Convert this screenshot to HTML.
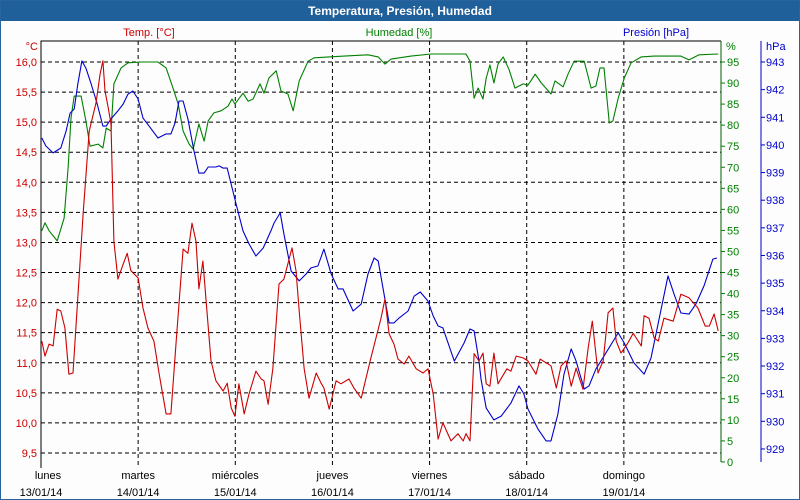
<!DOCTYPE html>
<html><head><meta charset="utf-8"><style>
html,body{margin:0;padding:0;background:#fff}
#wrap{position:relative;width:800px;height:500px;overflow:hidden;background:#fdfdfd;box-sizing:border-box;border:1px solid #2a64a0;font-family:"Liberation Sans",sans-serif}
#title{position:absolute;left:0;top:0;width:798px;height:20px;background:#1f5f9a;color:#fff;font-weight:bold;font-size:12px;line-height:20px;text-align:center}
svg{position:absolute;left:0;top:0}
svg text{font-family:"Liberation Sans",sans-serif;font-size:11px}
</style></head><body>
<div id="wrap">
<div id="title">Temperatura, Presión, Humedad</div>
<svg id="chart" width="800" height="500"></svg>
</div>
<script>
const dayNames=["lunes","martes","miércoles","jueves","viernes","sábado","domingo"];
const dayDates=["13/01/14","14/01/14","15/01/14","16/01/14","17/01/14","18/01/14","19/01/14"];
const tempTicks=[16.0,15.5,15.0,14.5,14.0,13.5,13.0,12.5,12.0,11.5,11.0,10.5,10.0,9.5];
const humTicks=[95,90,85,80,75,70,65,60,55,50,45,40,35,30,25,20,15,10,5,0];
const presTicks=[943,942,941,940,939,938,937,936,935,934,933,932,931,930,929];
const tempHours=[0.2,1,2,3,4,4.9,5.9,6.9,7.9,9.1,10.4,11.9,13.6,14.6,15.3,15.8,16.6,17.3,18,19,20.3,21.3,22.2,24,25.2,26.4,27.9,29.2,30.9,32.1,33.4,35.1,36.3,37.3,38.3,39,40,40.8,42,43.2,45,46,47,47.9,48.9,50.2,51.4,53.1,54.4,55.1,56.1,57.3,58.8,60,62,63,63.8,65,66.2,68,69.2,69.9,71.2,72.9,74.1,76.1,77.3,79.1,81.5,84,85,86,87.2,88.2,89.7,90.9,92.7,94.4,95.6,96.9,98.1,99.3,101.3,103,104.3,105,106,107,108.2,109.2,110,110.9,111.9,112.9,115.1,116.1,117.4,119.1,120.3,122.3,123.3,124.8,126,127.3,128.5,129.7,131,132.2,133.9,135.2,136.2,137.6,138.9,140.1,141.3,142.1,143.3,145,146.3,148.3,149,150.2,151.5,152.5,153.9,156.2,158.1,160.1,162.3,164.1,165.1,166.3,167.3];
const tempValues=[11.36,11.11,11.31,11.28,11.89,11.86,11.58,10.81,10.83,12.08,13.47,14.85,15.32,15.8,16.02,15.52,15.24,14.97,13.02,12.39,12.64,12.82,12.53,12.41,11.91,11.58,11.36,10.81,10.15,10.15,11.36,12.89,12.82,13.32,13.02,12.23,12.69,12.03,11.03,10.7,10.53,10.66,10.25,10.11,10.65,10.15,10.48,10.86,10.73,10.7,10.31,10.91,12.31,12.39,12.91,12.53,11.86,10.91,10.41,10.83,10.66,10.58,10.23,10.7,10.65,10.73,10.58,10.41,11.08,11.74,12.06,11.48,11.31,11.06,10.98,11.11,10.9,10.83,10.9,10.48,9.73,10.0,9.7,9.82,9.7,9.82,9.7,11.15,11.03,11.16,10.65,10.61,11.16,10.65,10.9,10.86,11.11,11.08,11.03,10.81,11.06,11.0,10.95,10.58,10.95,11.03,10.61,10.91,10.56,11.25,11.69,10.83,11.03,11.83,11.91,11.36,11.16,11.33,11.49,11.28,11.78,11.74,11.41,11.36,11.74,11.69,12.14,12.08,11.91,11.61,11.61,11.81,11.53];
const humHours=[0.2,1,2,4,5.7,6.7,7.4,8.2,9.9,11.1,12.1,14.1,15.3,16.1,17.3,18,19.8,21.5,24.7,28.9,30.9,32.6,33.9,35.1,36.6,37.6,39,40.3,41.3,42.7,44.5,46.2,47.2,47.9,49.9,51.2,52.4,54.1,55.1,56.3,58.1,59.3,61,62.3,63.8,66,67.5,74.9,80.8,83.3,85,86.5,91.4,96.4,98.8,105,106,107,108,109.2,110,110.9,111.9,112.9,114.2,115.6,117.1,119.1,120.3,122.1,123.6,126,127,129,130.2,131.7,134.2,135.9,137.1,138.1,139.1,140.4,141.3,142.6,144.1,145.8,148.3,151.5,155.2,158.1,160.1,162.6,167.3];
const humValues=[54.9,56.8,54.9,52.5,57.9,69.8,81.7,86.9,86.9,81.0,75.0,75.5,74.6,79.3,78.6,89.8,93.6,94.8,95.0,95.0,93.6,88.8,85.0,78.6,75.5,74.3,80.3,76.2,81.0,82.9,83.4,84.5,86.2,85.0,87.6,85.7,86.2,89.8,87.6,91.2,92.9,88.1,87.4,83.4,90.5,95.2,96.0,96.4,96.7,96.2,94.5,95.7,96.4,96.9,96.9,96.9,95.2,86.4,88.8,86.2,91.2,94.3,90.0,94.5,96.2,93.3,88.8,89.8,89.5,92.1,90.0,87.4,90.5,89.1,92.1,95.2,95.2,88.8,89.3,93.6,93.6,80.5,81.0,86.4,91.2,94.8,96.2,96.4,96.4,96.4,95.5,96.7,96.9];
const presHours=[0.2,1.2,3,4.9,6.2,7.2,8.2,9.1,10.1,11.1,12.4,13.8,15.3,16.1,17.3,19,20.3,21.5,22.7,24,25.2,26.7,28.9,30.9,32.1,33.1,34.1,35.1,36.3,37.8,39,40.3,41.3,43.2,44,45,46,48.2,49.9,51.4,53.1,54.9,56.8,57.6,59.1,60,61.8,63.8,65.5,66.7,68.4,69.9,71.7,73.4,74.6,77.1,79.1,80.8,82.3,83.3,84.5,86,87.2,88.5,90.7,92.2,93.7,95.6,96.9,98.1,99.3,102.1,104.5,106,107,108.2,108.7,110,111.9,113.7,116.1,118.1,119.3,120.3,122.8,124.8,126,127.7,129.2,131,132.2,134.2,135.4,137.1,139.1,142.6,144.1,146.5,149,150.7,152.5,154.9,156.4,158.1,160.1,161.8,163.8,166,167];
const presValues=[940.25,939.96,939.71,939.89,940.5,941.15,941.3,942.2,943.04,942.78,942.2,941.52,940.68,940.68,940.94,941.23,941.48,941.84,941.95,941.66,940.97,940.68,940.25,940.4,940.4,940.79,941.59,941.59,940.94,939.78,938.98,938.98,939.2,939.2,939.24,939.16,939.16,937.86,936.89,936.42,935.98,936.27,936.89,937.18,937.54,936.78,935.44,935.08,935.33,935.55,935.62,936.23,935.33,934.79,934.79,933.99,934.24,935.33,935.91,935.8,934.82,933.56,933.56,933.74,933.99,934.53,934.68,934.35,933.81,933.45,933.38,932.18,932.83,933.34,933.27,932.18,931.53,930.48,930.05,930.19,930.66,931.28,930.99,930.45,929.72,929.29,929.29,930.26,931.71,932.62,932.18,931.17,931.28,931.89,932.36,933.2,932.83,932.11,931.71,932.29,933.56,935.26,934.61,933.92,933.88,934.24,934.9,935.87,935.91];

const NS="http://www.w3.org/2000/svg";
const svg=document.getElementById('chart');
const L=40,R=720,T=40,B=461;
const xH=h=>L+h*(R-L)/168;
const yT=v=>61+(16-v)*60.15;
const yHum=v=>61+(95-v)*4.21;
const yP=v=>61+(943-v)*27.64;
function mk(tag,attrs,parent){const e=document.createElementNS(NS,tag);for(const k in attrs)e.setAttribute(k,attrs[k]);(parent||svg).appendChild(e);return e;}
function txt(s,x,y,anchor,fill){const e=mk('text',{x:x,y:y,'text-anchor':anchor,fill:fill});e.textContent=s;return e;}

// grid horizontal
tempTicks.forEach(v=>{const l=mk('line',{x1:L,x2:R,y1:yT(v),y2:yT(v),stroke:'#000','stroke-dasharray':'4,3','stroke-width':1});

});
// grid vertical
for(let d=1;d<7;d++){const l=mk('line',{x1:xH(d*24),x2:xH(d*24),y1:T,y2:B+6,stroke:'#000','stroke-dasharray':'4,3','stroke-width':1});

}
// frame
const fr=mk('path',{d:`M${L},${B+6}V${T}H${R}`,fill:'none',stroke:'#000','stroke-width':1});


const hx=mk('line',{x1:R,x2:R,y1:T,y2:B,stroke:'#006000','stroke-width':1});


const px=mk('line',{x1:760,x2:760,y1:40,y2:461,stroke:'#0000cc','stroke-width':1});


const bx=mk('line',{x1:L,x2:R,y1:B+.5,y2:B+.5,stroke:'#000','stroke-width':0});



// tick labels
tempTicks.forEach(v=>{const t=txt(v.toFixed(1).replace('.',','),36,yT(v)+4,'end','#cc0000');

});
humTicks.forEach(v=>{const y=yHum(v);mk('line',{x1:R,x2:R+4,y1:y,y2:y,stroke:'#008000'});const t=txt(String(v),R+6,y+4,'start','#008000');

});
presTicks.forEach(v=>{const y=yP(v);mk('line',{x1:760,x2:764,y1:y,y2:y,stroke:'#0000cc'});const t=txt(String(v),765,y+4,'start','#0000cc');

});
let u;
u=txt('°C',37,49,'end','#cc0000');
u=txt('%',725,49,'start','#008000');
u=txt('hPa',765,49,'start','#0000cc');
u=txt('Temp. [°C]',148,35,'middle','#cc0000');
u=txt('Humedad [%]',398,35,'middle','#008000');
u=txt('Presión [hPa]',655,35,'middle','#0000cc');
dayNames.forEach((n,i)=>{const x=xH(i*24);
const a=txt(n,x+(i==0?7:0),478,'middle','#000');
const b=txt(dayDates[i],x,495,'middle','#000');});

function series(hours,vals,yf,color,name){
 const d=hours.map((h,i)=>(i?'L':'M')+xH(h).toFixed(1)+','+yf(vals[i]).toFixed(1)).join('');
 const p=mk('path',{d:d,fill:'none',stroke:color,'stroke-width':1.1,'stroke-linejoin':'round'});
 
 
}
series(humHours,humValues,yHum,'#008000','humidity-line');
series(presHours,presValues,yP,'#0000cc','pressure-line');
series(tempHours,tempValues,yT,'#cc0000','temperature-line');
</script>
</body></html>
